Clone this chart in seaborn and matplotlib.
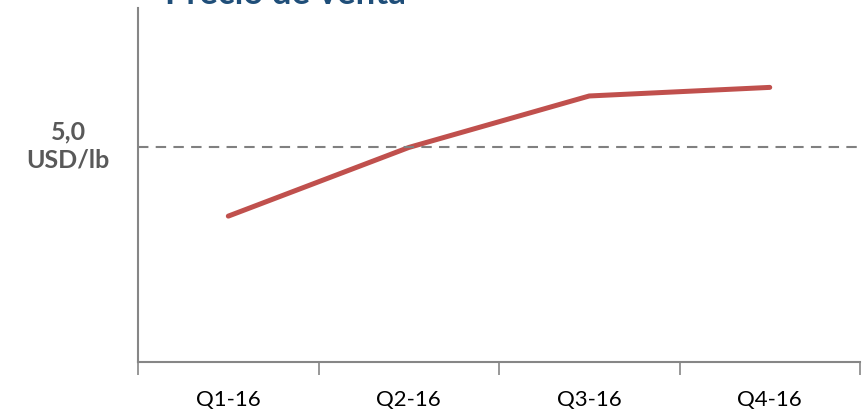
import matplotlib
matplotlib.use("Agg")
import matplotlib.pyplot as plt
import seaborn as sns
import pandas as pd

# Data (scale only anchored at 5,0 USD/lb)
quarters = ["Q1-16", "Q2-16", "Q3-16", "Q4-16"]
price = [4.68, 5.0, 5.24, 5.28]
reference_price = 5.0

df = pd.DataFrame({"quarter": quarters, "price": price})

sns.set_style("white")
plt.rcParams["font.family"] = ["Lato", "DejaVu Sans"]

fig = plt.figure(figsize=(8.63, 4.15), dpi=100)
ax = fig.add_axes([0.16, 0.1277, 0.8365, 0.853])

sns.lineplot(data=df, x="quarter", y="price", ax=ax, color="#C0504D",
             linewidth=3.6, solid_capstyle="round", sort=False)
ax.axhline(reference_price, color="#808080", linewidth=1.5,
           linestyle=(0, (5, 3.5)))

ax.set_xlim(-0.5, len(quarters) - 0.5)
ax.set_ylim(4.0, 5.65)

for side in ["top", "right"]:
    ax.spines[side].set_visible(False)
for side in ["left", "bottom"]:
    ax.spines[side].set_color("#868686")
    ax.spines[side].set_linewidth(1.5)

ax.set_yticks([])
ax.set_xticks([i - 0.5 for i in range(len(quarters) + 1)], minor=False)
ax.set_xticklabels([])
ax.set_xticks(range(len(quarters)), minor=True)
ax.set_xticklabels(quarters, minor=True, fontsize=16, color="#000000")
ax.tick_params(axis="x", which="major", length=9, width=1.2, color="#868686",
               direction="out", bottom=True)
ax.tick_params(axis="x", which="minor", length=0, pad=20)
ax.set_xlabel("")
ax.set_ylabel("")

fig.text(68 / 863, 1 - 146 / 415, "5,0\nUSD/lb", ha="center", va="center",
         fontsize=18, fontweight="bold", color="#595959", linespacing=1.25)
fig.text(165 / 863, 1 - 4 / 415, "Precio de venta", ha="left", va="baseline",
         fontsize=25, fontweight="bold", color="#1F4E79")

fig.savefig("out.png", dpi=100)
